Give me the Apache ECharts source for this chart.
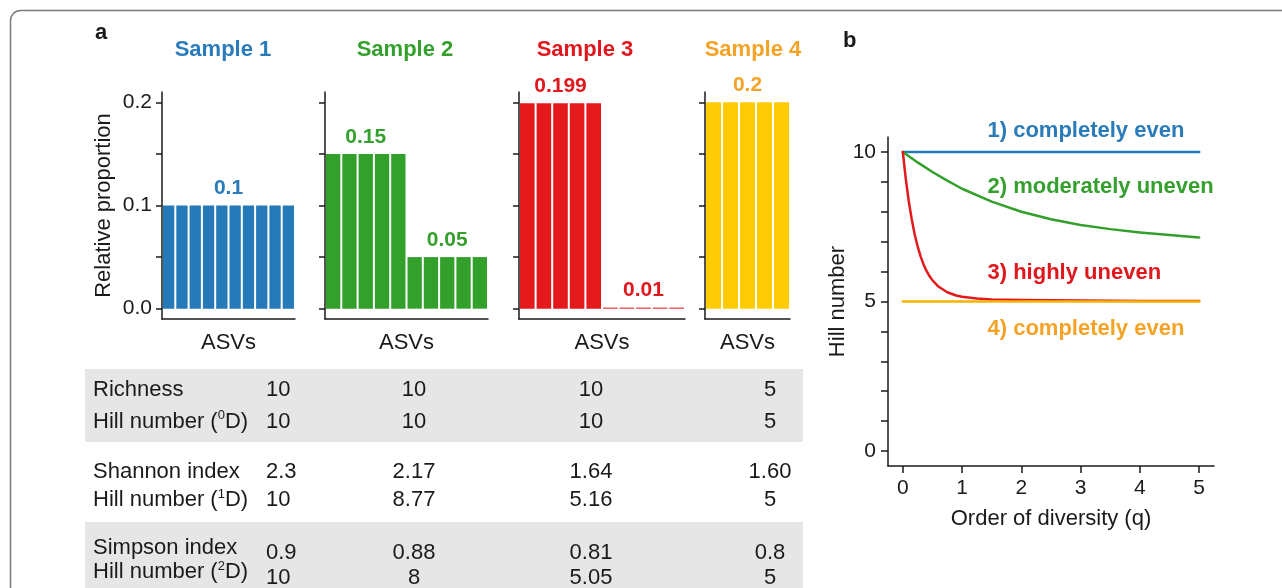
<!DOCTYPE html>
<html><head><meta charset="utf-8">
<script src="https://cdn.jsdelivr.net/npm/echarts@6/dist/echarts.min.js"></script>
<style>html,body{margin:0;padding:0;background:#fff}#c{width:1282px;height:588px}</style>
</head><body><div id="c"></div>
<script>
// ---------- data ----------
const sampleTitles = ['Sample 1', 'Sample 2', 'Sample 3', 'Sample 4'];
const asv10 = ['ASV1','ASV2','ASV3','ASV4','ASV5','ASV6','ASV7','ASV8','ASV9','ASV10'];
const asv5 = ['ASV1','ASV2','ASV3','ASV4','ASV5'];
const s1Values = [0.1, 0.1, 0.1, 0.1, 0.1, 0.1, 0.1, 0.1, 0.1, 0.1];
const s2Values = [0.15, 0.15, 0.15, 0.15, 0.15, 0.05, 0.05, 0.05, 0.05, 0.05];
const s3Values = [0.199, 0.199, 0.199, 0.199, 0.199, 0.001, 0.001, 0.001, 0.001, 0.001];
const s4Values = [0.2, 0.2, 0.2, 0.2, 0.2];
const s1Labels = ['0.1'];
const s2Labels = ['0.15', '0.05'];
const s3Labels = ['0.199', '0.01'];
const s4Labels = ['0.2'];
const propTicks = [0, 0.05, 0.1, 0.15, 0.2];
const propTickLabels = [0, 0.1, 0.2];

const qTicks = [0, 1, 2, 3, 4, 5];
const hillTicks = [0, 1, 2, 3, 4, 5, 6, 7, 8, 9, 10];
const hillTickLabels = [0, 5, 10];
const evenQ = [0, 5];
const even1Hill = [10, 10];
const even4Hill = [5, 5];
const modQ = [0, 0.25, 0.5, 0.75, 1, 1.5, 2, 2.5, 3, 3.5, 4, 4.5, 5];
const modHill = [10, 9.65, 9.33, 9.04, 8.77, 8.34, 8.0, 7.75, 7.56, 7.42, 7.31, 7.22, 7.14];
const highQ = [0, 0.05, 0.1, 0.15, 0.2, 0.25, 0.3, 0.35, 0.4, 0.45, 0.5, 0.6, 0.75, 0.9, 1, 1.25, 1.5, 2, 3, 4, 5];
const highHill = [10, 9.10, 8.36, 7.75, 7.25, 6.84, 6.51, 6.24, 6.02, 5.85, 5.71, 5.50, 5.31, 5.20, 5.16, 5.10, 5.07, 5.05, 5.03, 5.02, 5.02];
const lineNames = ['1) completely even', '2) moderately uneven', '3) highly uneven', '4) completely even'];

const tableRowNames = ['Richness', 'Hill number ({s|0}D)', 'Shannon index', 'Hill number ({s|1}D)', 'Simpson index', 'Hill number ({s|2}D)'];
const tableS1 = ['10', '10', '2.3', '10', '0.9', '10'];
const tableS2 = ['10', '10', '2.17', '8.77', '0.88', '8'];
const tableS3 = ['10', '10', '1.64', '5.16', '0.81', '5.05'];
const tableS4 = ['5', '5', '1.60', '5', '0.8', '5'];

// ---------- style ----------
const FONT = '"Liberation Sans", Arial, Helvetica, sans-serif';
const INK = '#1a1a1a';
const barColors = ['#2579B8', '#33A02C', '#E3191C', '#FFCB05'];
const textColors = ['#2A7BBA', '#35A02E', '#E0181E', '#F4A326'];
const lineColors = ['#2579B8', '#33A02C', '#E3191C', '#F8B400'];
const axisLineStyle = { color: INK, width: 1.5 };

const sampleValues = [s1Values, s2Values, s3Values, s4Values];
const sampleLabels = [s1Labels, s2Labels, s3Labels, s4Labels];
const sampleCats = [asv10, asv10, asv10, asv5];

function groups(vals) {
  const g = []; let start = 0;
  for (let i = 1; i <= vals.length; i++) {
    if (i === vals.length || vals[i] !== vals[start]) {
      g.push([(start + i - 1) / 2, vals[start]]); start = i;
    }
  }
  return g;
}
const zip = (a, b) => a.map((v, i) => [v, b[i]]);

const gridsA = [
  { left: 162, top: 92, width: 133, height: 227 },
  { left: 325, top: 92, width: 163, height: 227 },
  { left: 519, top: 92, width: 166, height: 227 },
  { left: 705, top: 92, width: 85, height: 227 }
];
const gridB = { left: 888, top: 137, width: 326, height: 329 };

const xAxes = [], yAxes = [], series = [];
sampleValues.forEach((vals, i) => {
  xAxes.push({
    type: 'category', gridIndex: i, data: sampleCats[i], boundaryGap: true,
    axisLine: { onZero: false, lineStyle: axisLineStyle },
    axisTick: { show: false }, axisLabel: { show: false }, splitLine: { show: false },
    name: 'ASVs', nameLocation: 'middle', nameGap: 13,
    nameTextStyle: { fontSize: 22, color: INK, fontFamily: FONT }
  });
  yAxes.push({
    type: 'value', gridIndex: i, min: -0.01, max: 0.21,
    axisLine: { show: true, onZero: false, lineStyle: axisLineStyle },
    axisTick: { show: true, length: 6, lineStyle: axisLineStyle, customValues: propTicks },
    axisLabel: { show: i === 0, customValues: propTickLabels, formatter: v => (+v).toFixed(1),
      margin: 10, fontSize: 21, color: INK, fontFamily: FONT },
    splitLine: { show: false },
    name: i === 0 ? 'Relative proportion' : '', nameLocation: 'middle', nameGap: 47,
    nameTextStyle: { fontSize: 22, color: INK, fontFamily: FONT }
  });
  series.push({
    type: 'bar', xAxisIndex: i, yAxisIndex: i, data: vals,
    barCategoryGap: 2, itemStyle: { color: barColors[i] }, silent: true
  });
});
// panel b axes
xAxes.push({
  type: 'value', gridIndex: 4, min: -0.25, max: 5.25,
  axisLine: { show: true, onZero: false, lineStyle: axisLineStyle },
  axisTick: { show: true, length: 7, lineStyle: axisLineStyle, customValues: qTicks },
  axisLabel: { customValues: qTicks, margin: 12, fontSize: 21, color: INK, fontFamily: FONT },
  splitLine: { show: false },
  name: 'Order of diversity (q)', nameLocation: 'middle', nameGap: 42,
  nameTextStyle: { fontSize: 22, color: INK, fontFamily: FONT }
});
yAxes.push({
  type: 'value', gridIndex: 4, min: -0.5, max: 10.5,
  axisLine: { show: true, onZero: false, lineStyle: axisLineStyle },
  axisTick: { show: true, length: 7, lineStyle: axisLineStyle, customValues: hillTicks },
  axisLabel: { customValues: hillTickLabels, margin: 12, fontSize: 21, color: INK, fontFamily: FONT },
  splitLine: { show: false },
  name: 'Hill number', nameLocation: 'middle', nameGap: 36,
  nameTextStyle: { fontSize: 22, color: INK, fontFamily: FONT }
});
// hidden overlay axes for bar value labels
sampleValues.forEach((vals, i) => {
  xAxes.push({ type: 'value', gridIndex: i, min: -0.5, max: vals.length - 0.5, show: false, position: 'top' });
  series.push({
    type: 'scatter', xAxisIndex: 5 + i, yAxisIndex: i, symbolSize: 1, silent: true,
    itemStyle: { color: 'rgba(0,0,0,0)', opacity: 1 }, clip: false,
    data: groups(vals).map((p, k) => ({ value: p, label: { formatter: sampleLabels[i][k] } })),
    label: { show: true, position: 'top', distance: 6, fontSize: 21, fontWeight: 'bold',
      color: textColors[i], fontFamily: FONT, opacity: 1 }
  });
});
// panel b lines
const lineData = [zip(evenQ, even1Hill), zip(modQ, modHill), zip(highQ, highHill), zip(evenQ, even4Hill)];
lineData.forEach((d, i) => {
  series.push({
    type: 'line', xAxisIndex: 4, yAxisIndex: 4, data: d, showSymbol: false, smooth: false,
    lineStyle: { width: 2.5, color: lineColors[i], join: 'round', cap: 'round' }, silent: true, z: 3
  });
});
// panel b line annotations
const annotY = [10.69, 8.84, 5.94, 4.08];
series.push({
  type: 'scatter', xAxisIndex: 4, yAxisIndex: 4, symbolSize: 1, clip: false, silent: true,
  itemStyle: { color: 'rgba(0,0,0,0)', opacity: 1 },
  data: lineNames.map((n, i) => ({ value: [1.42, annotY[i]], label: { formatter: n, color: textColors[i] } })),
  label: { show: true, position: 'right', distance: 0, fontSize: 22, fontWeight: 'bold', fontFamily: FONT, opacity: 1 }
});

// ---------- graphics: frame, panel letters, titles, table ----------
const graphic = [
  { type: 'rect', shape: { x: 10.5, y: 10.5, width: 1320, height: 640, r: 10 },
    style: { fill: 'none', stroke: '#7a7a7a', lineWidth: 1.5 }, silent: true },
  { type: 'text', x: 95, y: 33, style: { text: 'a', fontSize: 22, fontWeight: 'bold', fontFamily: FONT, fill: INK, verticalAlign: 'middle' } },
  { type: 'text', x: 843, y: 41, style: { text: 'b', fontSize: 22, fontWeight: 'bold', fontFamily: FONT, fill: INK, verticalAlign: 'middle' } }
];
const titleX = [223, 405, 585, 753];
sampleTitles.forEach((t, i) => graphic.push({
  type: 'text', x: titleX[i], y: 50,
  style: { text: t, fontSize: 22, fontWeight: 'bold', fontFamily: FONT, fill: textColors[i], align: 'center', verticalAlign: 'middle' }
}));
graphic.push({ type: 'rect', shape: { x: 85, y: 369, width: 718, height: 73 }, style: { fill: '#e6e6e6' }, z: -1 });
graphic.push({ type: 'rect', shape: { x: 85, y: 522, width: 718, height: 80 }, style: { fill: '#e6e6e6' }, z: -1 });
const labelYs = [390, 421.5, 471.5, 500, 548, 572];
const valueYs = [390, 421.5, 471.5, 500, 553, 578];
tableRowNames.forEach((n, r) => graphic.push({
  type: 'text', x: 93, y: labelYs[r],
  style: { text: n, fontSize: 22, fontFamily: FONT, fill: INK, verticalAlign: 'middle', lineHeight: 25,
    rich: { s: { fontSize: 13, fontFamily: FONT, fill: INK, verticalAlign: 'top', lineHeight: 13 } } }
}));
const cols = [tableS1, tableS2, tableS3, tableS4];
const colX = [266, 414, 591, 770];
const colAlign = ['left', 'center', 'center', 'center'];
cols.forEach((col, c) => col.forEach((v, r) => graphic.push({
  type: 'text', x: colX[c], y: valueYs[r],
  style: { text: v, fontSize: 22, fontFamily: FONT, fill: INK, align: colAlign[c], verticalAlign: 'middle' }
})));

const chart = echarts.init(document.getElementById('c'), null, { renderer: 'canvas' });
chart.setOption({
  animation: false,
  backgroundColor: '#fff',
  grid: [...gridsA, gridB],
  xAxis: xAxes,
  yAxis: yAxes,
  series: series,
  graphic: graphic
});
</script></body></html>
